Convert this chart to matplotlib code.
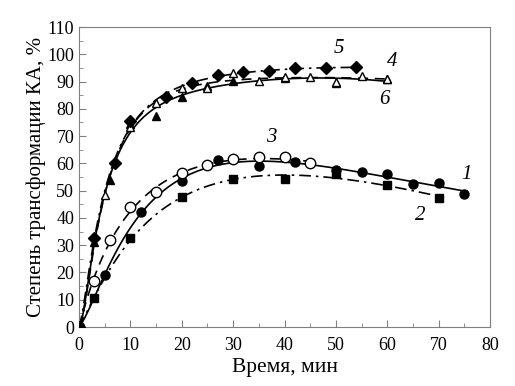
import numpy as np
import matplotlib
matplotlib.use("Agg")
import matplotlib.pyplot as plt
from matplotlib.ticker import MultipleLocator

# ---- data ----
s1_x = [0, 5, 12, 20, 27, 35, 42, 50, 55, 60, 65, 70, 75]
s1_y = [0, 19, 42, 53.5, 61.3, 59, 60.6, 57.5, 57, 56, 52.3, 52.9, 48.9]

s2_x = [0, 3, 10, 20, 30, 40, 50, 60, 70]
s2_y = [0, 10.5, 32.5, 47.5, 54.2, 54.2, 56, 52.2, 47.4]

s3_x = [0, 3, 6, 10, 15, 20, 25, 30, 35, 40, 45]
s3_y = [0, 17, 32, 44, 49.6, 56.4, 59.4, 61.5, 62.2, 62.2, 60]

s4_x = [0, 5, 10, 15, 20, 25, 30, 35, 40, 45, 50, 55, 60]
s4_y = [0, 48.3, 73.5, 82, 87.5, 87.8, 93, 90.3, 91.6, 91.5, 90, 92.2, 90.9]

s5_x = [0, 3, 7, 10, 17, 22, 27, 32, 37, 42, 48, 54]
s5_y = [0, 32.8, 60, 75.5, 84.5, 89.5, 92.3, 93.4, 93.9, 94.8, 95, 95.2]

s6_x = [0, 3, 6, 10, 15, 20, 25, 30, 40, 50, 60]
s6_y = [0, 31, 54, 74.5, 77.5, 84.5, 88.4, 90.3, 91.3, 89.6, 90.8]

x_ticks = [0, 10, 20, 30, 40, 50, 60, 70, 80]
y_ticks = [0, 10, 20, 30, 40, 50, 60, 70, 80, 90, 100, 110]
curve_labels = ["1", "2", "3", "4", "5", "6"]

plt.rcParams['font.family'] = ['Liberation Serif', 'DejaVu Serif']

fig = plt.figure(figsize=(5.15, 3.86), dpi=100)
ax = fig.add_axes([0.1534, 0.1528, 0.7981, 0.7772])


def trend(x, y, deg, k):
    x = np.asarray(x, float)
    y = np.asarray(y, float)
    u = np.log1p(x / k)
    c = np.polyfit(u, y, deg)
    xf = np.linspace(0, x.max(), 300)
    return xf, np.polyval(c, np.log1p(xf / k))


def draw(x, y, ls, marker, mfc, ms, deg, k, dashes=None):
    xf, yf = trend(x, y, deg, k)
    line, = ax.plot(xf, yf, color='black', lw=1.2, ls=ls)
    if dashes is not None:
        line.set_dashes(dashes)
    ax.plot(x, y, ls='none', marker=marker, mfc=mfc, mec='black',
            color='black', ms=ms, mew=1.0, zorder=3)


draw(s2_x, s2_y, '-', 's', 'black', 5.5, 4, 8, dashes=[7, 3, 1.5, 3])
draw(s1_x, s1_y, '-', 'o', 'black', 6.5, 4, 8)
draw(s3_x, s3_y, '-', 'o', 'white', 7.5, 4, 8, dashes=[6, 4])
draw(s6_x, s6_y, '-', '^', 'black', 6, 5, 3)
draw(s4_x, s4_y, '-', '^', 'white', 6, 5, 3, dashes=[6, 4])
draw(s5_x, s5_y, '-', 'D', 'black', 6, 5, 3, dashes=[7, 3, 1.5, 3])

ax.set_xlim(0, 80)
ax.set_ylim(0, 110)
ax.set_xticks(x_ticks)
ax.set_yticks(y_ticks)
ax.xaxis.set_minor_locator(MultipleLocator(5))
ax.yaxis.set_minor_locator(MultipleLocator(5))
ax.tick_params(which='both', direction='in', colors='#808080',
               labelcolor='black', labelsize=13)
ax.tick_params(which='major', length=5)
ax.tick_params(which='minor', length=3)
ax.tick_params(axis='x', pad=7)
for sp in ax.spines.values():
    sp.set_color('#808080')

ax.set_xlabel('Время, мин', fontsize=15.5, labelpad=3)
ax.set_ylabel('Степень трансформации КА, %', fontsize=15, labelpad=1)

lab_pos = [(75.5, 56), (66.5, 41), (37.5, 69.5), (61, 97.5), (50.5, 102), (59.5, 83.5)]
for t, (lx, ly) in zip(curve_labels, lab_pos):
    ax.text(lx, ly, t, fontsize=15, style='italic', ha='center', va='center')

fig.savefig('out.png', dpi=100)
